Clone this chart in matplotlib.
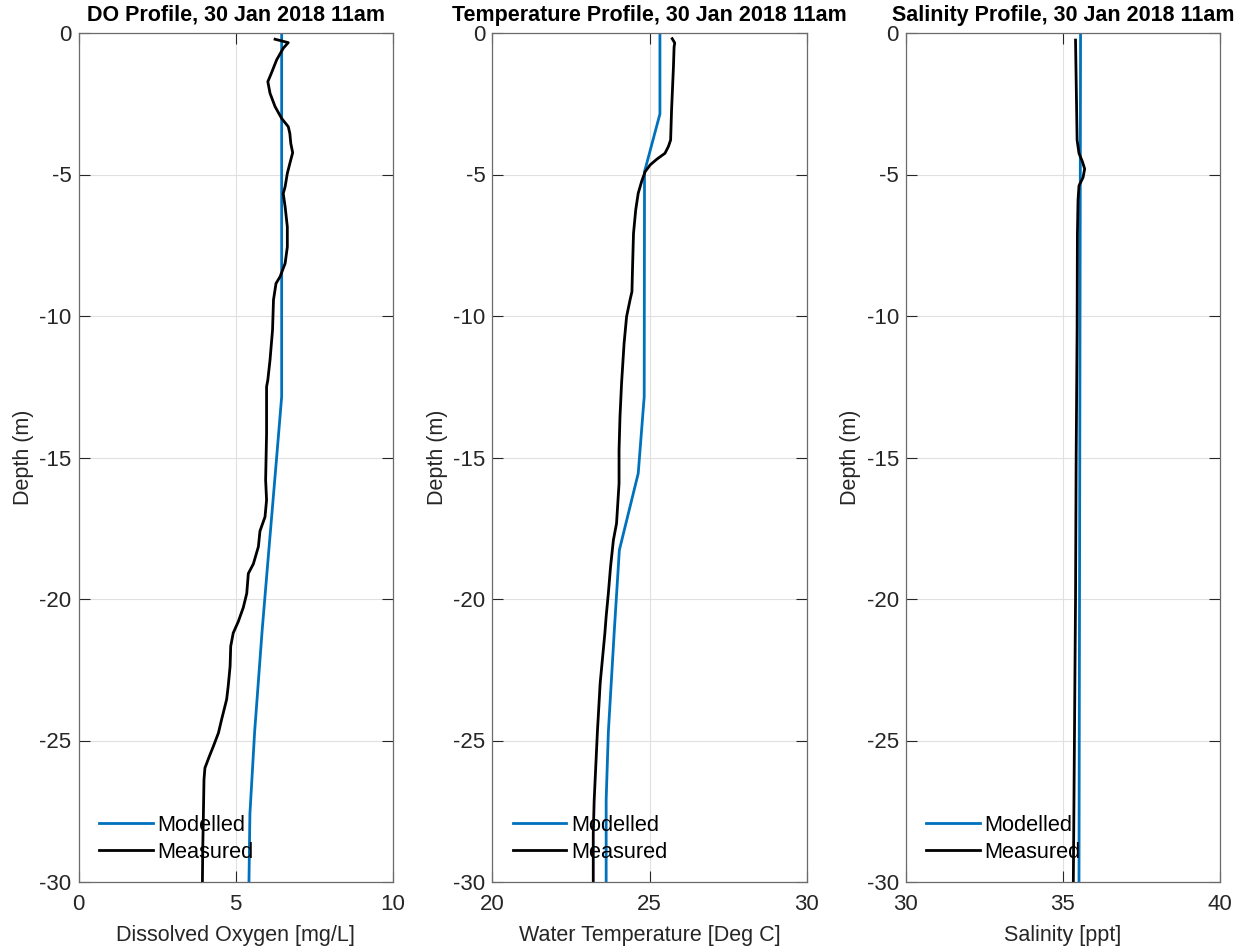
import matplotlib
matplotlib.use("Agg")
import matplotlib.pyplot as plt

plt.rcParams['font.family'] = ['Liberation Sans', 'DejaVu Sans']
plt.rcParams['axes.unicode_minus'] = False

TITLE_TIME = "30 Jan 2018 11am"

# ---- Dissolved oxygen ----
do_mod_depth = [0.0, 12.85, 15.0, 18.3, 21.1, 24.7, 27.6, 30.0]
do_mod_val = [6.46, 6.46, 6.30, 6.05, 5.84, 5.60, 5.45, 5.42]

do_meas_depth = [0.22, 0.34, 0.54, 0.95, 1.40, 1.72, 2.13, 2.60, 3.02, 3.31, 3.55, 3.90,
                 4.23, 4.61, 4.96, 5.43, 5.67, 6.14, 6.85, 7.56, 8.14, 8.61, 8.85, 9.43,
                 10.49, 11.55, 12.26, 12.5, 14.15, 15.8, 16.5, 17.1, 17.6, 18.15, 18.76,
                 19.1, 19.8, 20.3, 20.8, 21.2, 21.67, 22.38, 23.08, 23.55, 24.26, 24.73,
                 25.2, 25.56, 25.97, 26.38, 27.68, 28.86, 30.0]
do_meas_val = [6.25, 6.67, 6.51, 6.30, 6.14, 6.02, 6.09, 6.25, 6.46, 6.67, 6.72, 6.75,
               6.81, 6.72, 6.64, 6.57, 6.51, 6.57, 6.64, 6.64, 6.57, 6.41, 6.28, 6.20,
               6.17, 6.09, 6.02, 5.98, 5.98, 5.95, 5.98, 5.93, 5.77, 5.72, 5.56,
               5.40, 5.35, 5.24, 5.08, 4.92, 4.84, 4.82, 4.76, 4.71, 4.55, 4.45,
               4.29, 4.16, 4.02, 3.99, 3.97, 3.95, 3.94]

# ---- Water temperature ----
temp_mod_depth = [0.0, 2.86, 4.9, 12.85, 15.56, 18.27, 21.1, 24.7, 27.1, 30.0]
temp_mod_val = [25.33, 25.33, 24.84, 24.83, 24.64, 24.04, 23.88, 23.69, 23.62, 23.62]

temp_meas_depth = [0.20, 0.35, 0.50, 1.19, 2.72, 3.78, 4.01, 4.25, 4.46, 4.66, 4.90, 5.24,
                   5.66, 6.25, 7.08, 8.25, 9.14, 9.43, 10.02, 10.97, 12.38, 13.56, 14.74,
                   15.92, 17.33, 17.92, 18.86, 19.8, 20.62, 21.2, 22.38, 22.97, 24.73,
                   27.1, 28.3, 30.0]
temp_meas_val = [25.72, 25.80, 25.78, 25.76, 25.70, 25.67, 25.60, 25.49, 25.23, 25.02, 24.86,
                 24.75, 24.64, 24.56, 24.49, 24.46, 24.44, 24.38, 24.27, 24.19, 24.11, 24.06,
                 24.03, 24.03, 23.95, 23.85, 23.76, 23.69, 23.62, 23.58, 23.48, 23.43, 23.34,
                 23.24, 23.21, 23.21]

# ---- Salinity ----
sal_mod_depth = [0.0, 30.0]
sal_mod_val = [35.56, 35.51]

sal_meas_depth = [0.25, 2.37, 3.78, 4.25, 4.55, 4.80, 5.10, 5.40, 5.90, 7.10, 10.5,
                  15.0, 20.0, 30.0]
sal_meas_val = [35.40, 35.43, 35.45, 35.51, 35.62, 35.69, 35.64, 35.51, 35.48, 35.46, 35.45,
                35.42, 35.40, 35.33]

panels = [
    dict(title=f"DO Profile, {TITLE_TIME}", xlabel="Dissolved Oxygen [mg/L]",
         xlim=(0, 10), xticks=[0, 5, 10],
         mod=(do_mod_val, do_mod_depth), meas=(do_meas_val, do_meas_depth)),
    dict(title=f"Temperature Profile, {TITLE_TIME}", xlabel="Water Temperature [Deg C]",
         xlim=(20, 30), xticks=[20, 25, 30],
         mod=(temp_mod_val, temp_mod_depth), meas=(temp_meas_val, temp_meas_depth)),
    dict(title=f"Salinity Profile, {TITLE_TIME}", xlabel="Salinity [ppt]",
         xlim=(30, 40), xticks=[30, 35, 40],
         mod=(sal_mod_val, sal_mod_depth), meas=(sal_meas_val, sal_meas_depth)),
]

W, H = 1245, 949
fig = plt.figure(figsize=(W / 100, H / 100), dpi=100)

lefts = [78.5, 492.3, 905.7]
ax_w, ax_top, ax_bot = 314.5, 33, 882
AXCOL = '#262626'
BLUE = '#0072BD'

for left, p in zip(lefts, panels):
    ax = fig.add_axes([left / W, (H - ax_bot) / H, ax_w / W, (ax_bot - ax_top) / H])
    ax.plot(p['mod'][0], [-d for d in p['mod'][1]], color=BLUE, lw=2.0, label='Modelled')
    ax.plot(p['meas'][0], [-d for d in p['meas'][1]], color='black', lw=2.0, label='Measured')
    ax.set_xlim(*p['xlim'])
    ax.set_ylim(-30, 0)
    ax.set_xticks(p['xticks'])
    ax.set_yticks([-30, -25, -20, -15, -10, -5, 0])
    ax.grid(True, color='#e0e0e0', lw=0.8)
    ax.set_axisbelow(True)
    ax.tick_params(direction='in', length=8, width=0.8, top=True, right=True,
                   labelsize=16, colors=AXCOL)
    ax.tick_params(axis='x', pad=9)
    ax.tick_params(axis='y', pad=5)
    for s in ax.spines.values():
        s.set_color('#6b6b6b')
        s.set_linewidth(0.9)
    ax.set_title(p['title'], fontsize=15.5, fontweight='bold', pad=9)
    ax.set_xlabel(p['xlabel'], fontsize=15.5, color=AXCOL, labelpad=7)
    ax.set_ylabel("Depth (m)", fontsize=15.5, color=AXCOL, labelpad=4)
    ax.legend(loc='lower left', frameon=False, fontsize=15.7, handlelength=2.45,
              handletextpad=0.2, borderaxespad=0.0, labelspacing=0.3,
              bbox_to_anchor=(0.038, 0.012))

fig.savefig("out.png", dpi=100)
